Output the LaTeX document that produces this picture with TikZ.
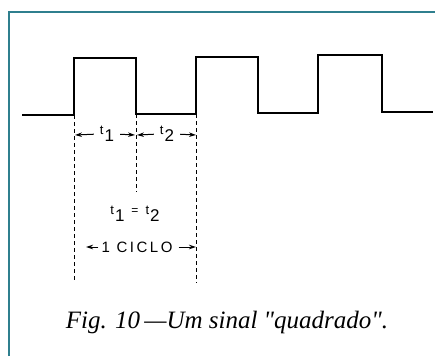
\documentclass[tikz,border=0pt]{standalone}
\usepackage{fontspec}
\setmainfont{Liberation Serif}
\setsansfont{Liberation Sans}
\newfontfamily\capfont[Ligatures=TeXOff]{Liberation Serif}
\usetikzlibrary{arrows.meta}
\definecolor{frame}{HTML}{2F7F8E}
\tikzset{
  wave/.style={line width=1.5pt, line join=miter},
  guide/.style={line width=0.9pt, dash pattern=on 3.5pt off 3.5pt},
  dimarrow/.style={line width=1pt, shorten <=5pt, -{Stealth[length=7pt,width=4.5pt]}},
  lbl/.style={font=\sffamily, inner sep=1pt},
}
\newcommand{\tsub}[1]{{\fontsize{13}{13}\selectfont\raisebox{4pt}{t}}\kern1pt{\fontsize{17}{17}\selectfont\raisebox{-3pt}{#1}}}
\begin{document}
\begin{tikzpicture}[x=1pt,y=-1pt]
\useasboundingbox (0,0) rectangle (435,356);
\fill[white] (0,0) rectangle (435,356);
% frame
\draw[frame, line width=2pt] (9,356) -- (9,12) -- (435,12);
% wave coordinates
\coordinate (s0) at (22,115);
\coordinate (r1b) at (74,115);
\coordinate (r1t) at (74,58);
\coordinate (f1t) at (136,58);
\coordinate (f1b) at (136,114);
\coordinate (r2b) at (196,114);
\coordinate (r2t) at (196,57);
\coordinate (f2t) at (258,57);
\coordinate (f2b) at (258,113);
\coordinate (r3b) at (318,113);
\coordinate (r3t) at (318,55);
\coordinate (f3t) at (382,55);
\coordinate (f3b) at (382,112);
\coordinate (e0) at (433,112);
\draw[wave] (s0) -- (r1b) -- (r1t) -- (f1t) -- (f1b) -- (r2b) -- (r2t) -- (f2t) -- (f2b) -- (r3b) -- (r3t) -- (f3t) -- (f3b) -- (e0);
% guides
\coordinate (g1) at (74,283);
\coordinate (g2) at (136,192);
\coordinate (g3) at (196,283);
\draw[guide] (r1b) -- (g1);
\draw[guide] (f1b) -- (g2);
\draw[guide] (r2b) -- (g3);
% t1, t2 dimensions
\coordinate (a1) at (75,135);
\coordinate (a2) at (135,135);
\coordinate (a2b) at (137,135);
\coordinate (a3) at (196,135);
\node[lbl] (t1) at (107,134) {\tsub{1}};
\node[lbl] (t2) at (167,134) {\tsub{2}};
\draw[dimarrow] (t1.west) -- (a1);
\draw[dimarrow] (t1.east) -- (a2);
\draw[dimarrow] (t2.west) -- (a2b);
\draw[dimarrow] (t2.east) -- (a3);
% t1 = t2
\node[lbl] (eq) at (135,214) {\tsub{1}\hspace{7pt}{\fontsize{12}{12}\selectfont\raisebox{4pt}{=}}\hspace{7pt}\tsub{2}};
% 1 ciclo
\coordinate (c1) at (86,247);
\coordinate (c2) at (196,247);
\node[lbl, font=\sffamily\fontsize{15}{15}\selectfont] (cyc) at (137,247) {1\, C\,I\,C\,L\,O};
\draw[dimarrow, shorten <=2pt] (cyc.west) -- (c1);
\draw[dimarrow] (cyc.east) -- (c2);
% caption
\node[font=\capfont\itshape\fontsize{25}{25}\selectfont, inner sep=0pt] (cap) at (227,322) {Fig. 10\,—Um sinal "quadrado".};
\end{tikzpicture}
\end{document}
